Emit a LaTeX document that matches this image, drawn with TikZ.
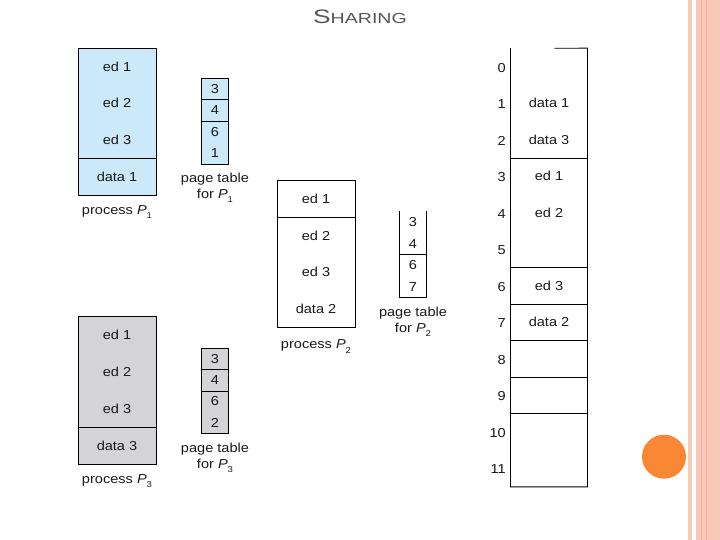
\documentclass[tikz,border=0pt]{standalone}
\usepackage{fontspec}
\usetikzlibrary{backgrounds}
\setmainfont{Liberation Sans}[FakeStretch=1.12]
\newfontfamily\titlefont{Liberation Sans}[FakeStretch=1.35]
\definecolor{pblue}{RGB}{204,233,250}
\definecolor{pgray}{RGB}{212,212,215}
\definecolor{stripe}{RGB}{250,200,182}
\definecolor{stripedk}{RGB}{244,180,160}
\definecolor{dotor}{RGB}{250,135,52}
\definecolor{titlegray}{RGB}{85,85,85}
\definecolor{txt}{RGB}{25,25,25}
\newcommand{\Psub}[1]{\textit{P}\raisebox{-0.6ex}{\fontsize{8.5}{8.5}\selectfont #1}}
\begin{document}
\begin{tikzpicture}[x=1pt,y=-1pt,
  every node/.style={text=txt,font=\fontsize{13}{15}\selectfont,inner sep=0pt},
  prow/.style={minimum width=77.4pt,minimum height=36.675pt},
  trow/.style={minimum width=26.6pt,minimum height=21.4pt},
  mrow/.style={minimum width=76.6pt,minimum height=36.53pt},
  num/.style={anchor=east},
  ptcap/.style={align=center,font=\fontsize{13}{16}\selectfont},
  ln/.style={draw=black,line width=0.8pt}]
\useasboundingbox (0,0) rectangle (720,540);
% decorations
\fill[stripe] (687.7,0) rectangle (691.7,540);
\fill[stripe] (695.7,0) rectangle (720,540);
\fill[stripedk] (700.8,0) rectangle (702.3,540);
\fill[stripedk] (706.2,0) rectangle (707.2,540);
\node[circle,fill=dotor,minimum size=44pt] (dot) at (664,456.7) {};
\node[text=titlegray,font=\titlefont\fontsize{19.5}{20}\selectfont] (title) at (360,17) {S{\fontsize{14.5}{16}\selectfont HARING}};

% process P1
\foreach \t [count=\i from 0] in {ed 1,ed 2,ed 3,data 1}
  \node[prow] (p1r\i) at (117,{48.3+36.675*(\i+0.5)}) {\t};
\begin{scope}[on background layer]
\draw[ln,fill=pblue] (p1r0.north west) rectangle (p1r3.south east);
\end{scope}
\draw[ln] (p1r2.south west) -- (p1r2.south east);
\node (p1cap) at (117,212) {process \Psub{1}};

% page table P1
\foreach \t [count=\i from 0] in {3,4,6,1}
  \node[trow] (t1r\i) at (215,{78.3+21.4*(\i+0.5)}) {\t};
\begin{scope}[on background layer]
\draw[ln,fill=pblue] (t1r0.north west) rectangle (t1r3.south east);
\end{scope}
\draw[ln] (t1r0.south west) -- (t1r0.south east);
\draw[ln] (t1r1.south west) -- (t1r1.south east);
\node[ptcap] (t1cap) at (215,188) {page table\\for \Psub{1}};

% process P2
\foreach \t [count=\i from 0] in {ed 1,ed 2,ed 3,data 2}
  \node[prow] (p2r\i) at (316,{181+36.43*(\i+0.5)}) {\t};
\draw[ln] (p2r0.north west) rectangle (p2r3.south east);
\draw[ln] (p2r0.south west) -- (p2r0.south east);
\node (p2cap) at (316,346.5) {process \Psub{2}};

% page table P2
\foreach \t [count=\i from 0] in {3,4,6,7}
  \node[trow,minimum width=26pt] (t2r\i) at (413,{211.7+21.4*(\i+0.5)}) {\t};
\draw[ln] (t2r0.north west) -- (t2r3.south west) -- (t2r3.south east) -- (t2r0.north east);
\draw[ln] (t2r1.south west) -- (t2r1.south east);
\node[ptcap] (t2cap) at (413,321.5) {page table\\for \Psub{2}};

% process P3
\foreach \t [count=\i from 0] in {ed 1,ed 2,ed 3,data 3}
  \node[prow] (p3r\i) at (117,{316.7+36.9*(\i+0.5)}) {\t};
\begin{scope}[on background layer]
\draw[ln,fill=pgray] (p3r0.north west) rectangle (p3r3.south east);
\end{scope}
\draw[ln] (p3r2.south west) -- (p3r2.south east);
\node (p3cap) at (117,481.5) {process \Psub{3}};

% page table P3
\foreach \t [count=\i from 0] in {3,4,6,2}
  \node[trow] (t3r\i) at (215,{348.3+21.25*(\i+0.5)}) {\t};
\begin{scope}[on background layer]
\draw[ln,fill=pgray] (t3r0.north west) rectangle (t3r3.south east);
\end{scope}
\draw[ln] (t3r0.south west) -- (t3r0.south east);
\draw[ln] (t3r1.south west) -- (t3r1.south east);
\node[ptcap] (t3cap) at (215,457.5) {page table\\for \Psub{3}};

% physical memory
\foreach \t [count=\i from 0] in {{},data 1,data 3,ed 1,ed 2,{},ed 3,data 2,{},{},{},{}}
  \node[mrow] (m\i) at (549,{48.3+36.53*(\i+0.5)}) {\t};
\foreach \i in {0,...,11}
  \node[num] (n\i) at (506,{48.3+36.53*(\i+0.5)+1}) {\i};
\coordinate (mtop) at (554.3,48.3);
\draw[ln] (m0.north west) -- (m11.south west) -- (m11.south east) -- (m0.north east) -- (mtop);
\foreach \i in {2,5,6,7,8,9}
  \draw[ln] (m\i.south west) -- (m\i.south east);
\end{tikzpicture}
\end{document}
